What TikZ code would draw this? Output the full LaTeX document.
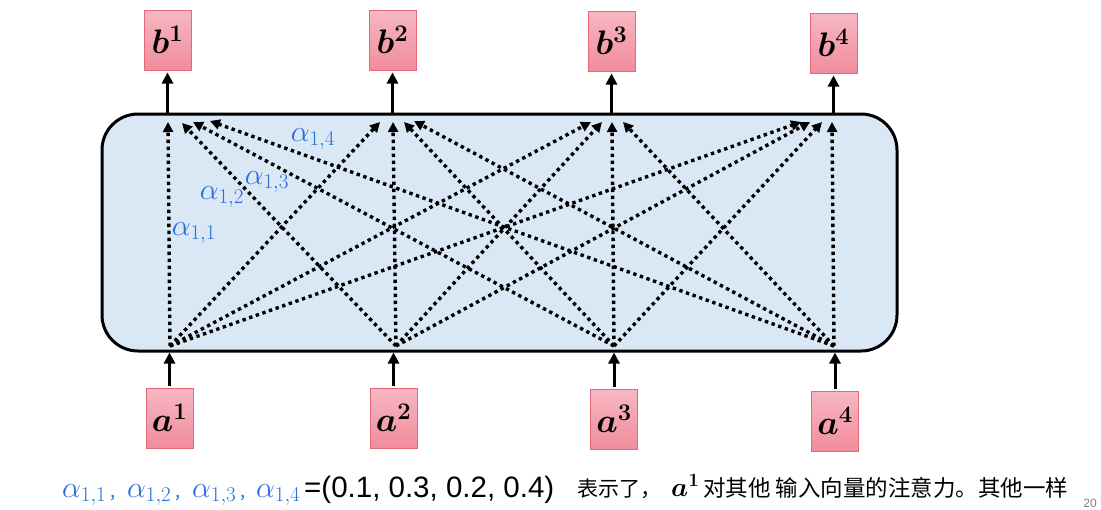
\RequirePackage{fix-cm}
\documentclass[tikz,border=0pt]{standalone}
\usepackage{fontspec}
\setmainfont{Liberation Sans}
\newfontfamily\cjk{Noto Sans CJK SC}
\usetikzlibrary{arrows.meta}
\definecolor{boxfill}{RGB}{218,232,245}
\definecolor{pinktop}{RGB}{246,184,194}
\definecolor{pinkbot}{RGB}{241,140,156}
\definecolor{pinkline}{RGB}{232,102,122}
\definecolor{alphablue}{RGB}{40,110,215}
\tikzset{
  pinkbox/.style={draw=pinkline, line width=1pt, top color=pinktop, bottom color=pinkbot,
    minimum width=47pt, minimum height=60pt, inner sep=0pt,
    font=\fontsize{34}{34}\selectfont\boldmath},
  thickarrow/.style={line width=3pt, -{Triangle[width=11pt,length=11pt]}},
  dotline/.style={line width=3.4pt, dash pattern=on 3.4pt off 3.6pt, -{Triangle[width=10pt,length=10pt]}},
  alab/.style={text=alphablue, font=\fontsize{30}{30}\selectfont, inner sep=0pt},
  capt/.style={anchor=base west, inner sep=0pt},
  comma/.style={capt, text=alphablue, font=\cjk\fontsize{18}{18}\selectfont},
}
\begin{document}
\begin{tikzpicture}[x=1pt,y=-1pt]
\useasboundingbox (0,0) rectangle (1101,509);
% main box
\node[draw, line width=3pt, fill=boxfill, rounded corners=36pt, minimum width=795pt, minimum height=237pt, inner sep=0pt] (box) at (499.5,232.5) {};
% output boxes
\node[pinkbox] (b1) at (167.5,40) {$b^1$};
\node[pinkbox] (b2) at (392.5,40) {$b^2$};
\node[pinkbox] (b3) at (611.5,41) {$b^3$};
\node[pinkbox] (b4) at (833.5,43) {$b^4$};
% input boxes
\node[pinkbox] (a1) at (169.5,418) {$a^1$};
\node[pinkbox] (a2) at (393.5,418) {$a^2$};
\node[pinkbox] (a3) at (614,419) {$a^3$};
\node[pinkbox] (a4) at (835,421) {$a^4$};
% arrows into and out of the box
\foreach \n in {1,2,3,4}{
  \draw[thickarrow] (b\n.south |- box.north) -- ([yshift=-2pt]b\n.south);
  \draw[thickarrow] ([yshift=2pt]a\n.north) -- (a\n.north |- box.south);
}
% dotted start points
\coordinate (s1) at (170,346);
\coordinate (s2) at (396,346);
\coordinate (s3) at (614,346);
\coordinate (s4) at (834,346);
% end points: t<target><source>
\coordinate (t11) at (168,122); \coordinate (t12) at (182,123); \coordinate (t13) at (193,122); \coordinate (t14) at (210,121);
\coordinate (t21) at (380,122); \coordinate (t22) at (393,122); \coordinate (t23) at (404,122); \coordinate (t24) at (414,121);
\coordinate (t31) at (591,122); \coordinate (t32) at (602,122); \coordinate (t33) at (612,122); \coordinate (t34) at (623,122);
\coordinate (t41) at (801,122); \coordinate (t42) at (810,122); \coordinate (t43) at (822,122); \coordinate (t44) at (832,122);
\foreach \t in {1,2,3,4}{
  \foreach \s in {1,2,3,4}{
    \draw[dotline] (s\s) -- (t\t\s);
  }
}
% alpha labels
\node[alab] (l14) at (313,139) {$\alpha_{1,4}$};
\node[alab] (l13) at (267,182) {$\alpha_{1,3}$};
\node[alab] (l12) at (222,197) {$\alpha_{1,2}$};
\node[alab] (l11) at (194,233) {$\alpha_{1,1}$};
% bottom caption
\node[capt, alab] (c11) at (62,497) {$\alpha_{1,1}$};
\node[comma] (k1) at (110,497) {,};
\node[capt, alab] (c12) at (127,497) {$\alpha_{1,2}$};
\node[comma] (k2) at (175,497) {,};
\node[capt, alab] (c13) at (192,497) {$\alpha_{1,3}$};
\node[comma] (k3) at (240,497) {,};
\node[capt, alab] (c14) at (256,497) {$\alpha_{1,4}$};
\node[capt, font=\fontsize{29.5}{29.5}\selectfont] (cap2) at (304,497) {=(0.1, 0.3, 0.2, 0.4)};
\node[capt, font=\cjk\fontsize{21}{21}\selectfont] (cap3) at (577,496) {表示了，};
\node[capt, font=\fontsize{27}{27}\selectfont\boldmath] (cap4) at (671,496) {$a^1$};
\node[capt, font=\cjk\fontsize{22.5}{22.5}\selectfont] (cap5) at (703,496) {对其他 输入向量的注意力。其他一样};
\node[anchor=base, inner sep=0pt, text=gray, font=\fontsize{12}{12}\selectfont] (pg) at (1090,507) {20};
\end{tikzpicture}
\end{document}
